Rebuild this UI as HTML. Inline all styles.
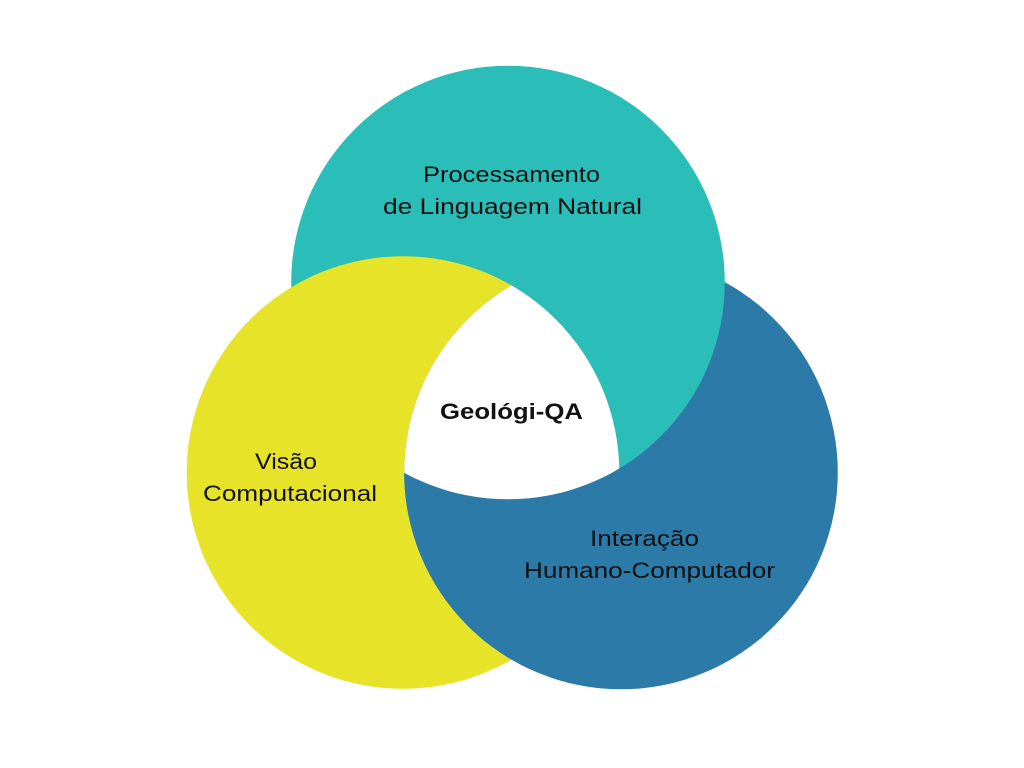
<!DOCTYPE html>
<html>
<head>
<meta charset="utf-8">
<style>
  html, body { margin: 0; padding: 0; background: #ffffff; }
  svg { display: block; }
  text { font-family: "Liberation Sans", "DejaVu Sans", sans-serif; fill: #111111; }
</style>
</head>
<body>
<svg width="1024" height="768" viewBox="0 0 1024 768" xmlns="http://www.w3.org/2000/svg">
  <defs>
    <clipPath id="cY"><circle cx="403" cy="472.5" r="216.3"/></clipPath>
    <clipPath id="cYbig"><circle cx="403" cy="472.5" r="217.3"/></clipPath>
    <clipPath id="cLow"><rect x="0" y="469" width="1024" height="300"/></clipPath>
    <clipPath id="cB"><circle cx="621" cy="472.5" r="216.8"/></clipPath>
  </defs>
  <rect width="1024" height="768" fill="#ffffff"/>
  <!-- base circles -->
  <circle cx="621" cy="472.5" r="216.8" fill="#2B7AA8"/>
  <circle cx="508" cy="282.5" r="216.8" fill="#2BBEB8"/>
  <circle cx="403" cy="472.5" r="216.3" fill="#E6E329"/>
  <!-- blue over yellow -->
  <circle cx="621" cy="472.5" r="216.8" fill="#2B7AA8" clip-path="url(#cY)"/>
  <g clip-path="url(#cLow)">
    <circle cx="621" cy="472.5" r="216.8" fill="#2B7AA8" clip-path="url(#cYbig)"/>
  </g>
  <!-- white triple intersection -->
  <g clip-path="url(#cB)">
    <circle cx="508" cy="282.5" r="216.8" fill="#ffffff" clip-path="url(#cY)"/>
  </g>

  <!-- labels -->
  <text x="423" y="182" font-size="22" textLength="177" lengthAdjust="spacingAndGlyphs">Processamento</text>
  <text x="383" y="214" font-size="22" textLength="259" lengthAdjust="spacingAndGlyphs">de Linguagem Natural</text>

  <text x="440" y="419" font-size="22" font-weight="bold" textLength="143" lengthAdjust="spacingAndGlyphs">Geológi-QA</text>

  <text x="255" y="469" font-size="22" textLength="62" lengthAdjust="spacingAndGlyphs">Visão</text>
  <text x="203" y="501" font-size="22" textLength="174" lengthAdjust="spacingAndGlyphs">Computacional</text>

  <text x="590" y="546" font-size="22" textLength="109" lengthAdjust="spacingAndGlyphs">Interação</text>
  <text x="524" y="578" font-size="22" textLength="251" lengthAdjust="spacingAndGlyphs">Humano-Computador</text>
</svg>
</body>
</html>
